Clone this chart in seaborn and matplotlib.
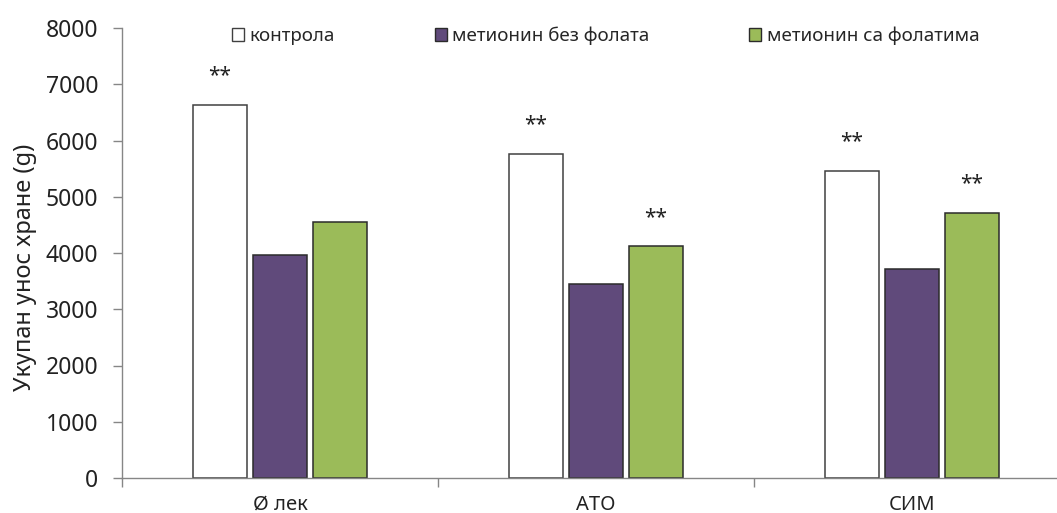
import matplotlib
matplotlib.use("Agg")
import matplotlib.pyplot as plt
import seaborn as sns
import pandas as pd
import numpy as np
from matplotlib.patches import Patch

categories = ["Ø лек", "АТО", "СИМ"]
series_names = ["контрола", "метионин без фолата", "метионин са фолатима"]
kontrola = [6630, 5760, 5460]
bez_folata = [3960, 3450, 3710]
sa_folatima = [4550, 4120, 4710]
stars = [["**", "", ""], ["**", "", "**"], ["**", "", "**"]]  # per category, per series
colors = ["#FFFFFF", "#604A7B", "#9BBB59"]
edges = ["#404040", "#2b2b2b", "#2b2b2b"]
yticks = [0, 1000, 2000, 3000, 4000, 5000, 6000, 7000, 8000]

sns.set_theme(style="white")
plt.rcParams["font.family"] = ["Noto Sans", "DejaVu Sans"]

rows = []
for s, vals in zip(series_names, [kontrola, bez_folata, sa_folatima]):
    for c, v in zip(categories, vals):
        rows.append({"cat": c, "series": s, "value": v})
df = pd.DataFrame(rows)

fig = plt.figure(figsize=(10.57, 5.13), dpi=100)
ax = fig.add_axes([122/1057, 35/513, (1057-122)/1057, (478-28)/513])

sns.barplot(data=df, x="cat", y="value", hue="series", order=categories,
            hue_order=series_names, palette=colors, saturation=1, width=0.57, gap=0.1,
            edgecolor="#333333", linewidth=1.1, ax=ax, legend=False)

n = len(categories)
for i, p in enumerate(ax.patches[:3 * n]):
    si = i // n
    p.set_edgecolor(edges[si])

for i, p in enumerate(ax.patches[:3 * n]):
    si = i // n
    ci = i % n
    txt = stars[ci][si]
    if txt:
        ax.text(p.get_x() + p.get_width() / 2, p.get_height() + 330, txt,
                ha="center", va="bottom", fontsize=15, color="#222222")

ax.set_yticks(yticks)
ax.set_yticklabels([str(t) for t in yticks], fontsize=16.5, color="#222222")
ax.set_xticks(range(n))
ax.set_xticklabels(categories, fontsize=14.5, color="#222222")
ax.set_xticks([-0.5, 0.5, 1.5, 2.5], minor=True)
ax.set_ylim(0, 8000)
ax.set_xlim(-0.5, 2.459)
ax.tick_params(axis="x", which="major", length=0, pad=12)
ax.tick_params(axis="x", which="minor", length=6.5, width=1, color="#868686", direction="out", bottom=True)
ax.tick_params(axis="y", which="major", length=6.5, width=1, color="#868686", direction="out", left=True, pad=10.5)
ax.set_xlabel("")
ax.set_ylabel("Укупан унос хране (g)", fontsize=17, color="#222222", va="center")
ax.yaxis.set_label_coords(-0.104, 0.467)

for side in ["top", "right"]:
    ax.spines[side].set_visible(False)
for side in ["left", "bottom"]:
    ax.spines[side].set_color("#868686")
    ax.spines[side].set_linewidth(1)

handles = [Patch(facecolor=c, edgecolor=e, linewidth=1) for c, e in zip(colors, edges)]
fig.legend(handles, series_names, loc="center left", bbox_to_anchor=(232/1057, 1 - 36/513),
           bbox_transform=fig.transFigure,
           ncol=3, frameon=False, fontsize=13.5, handlelength=0.65, handleheight=0.7,
           handletextpad=0.3, columnspacing=5.3, borderpad=0, borderaxespad=0)

fig.savefig("out.png", dpi=100)
